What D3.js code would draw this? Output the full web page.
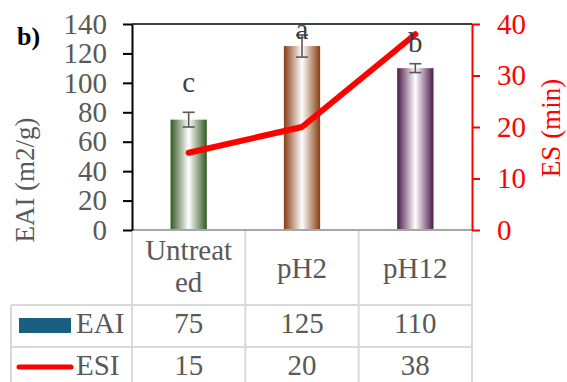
<!DOCTYPE html>
<html><head><meta charset="utf-8">
<script src="https://cdn.jsdelivr.net/npm/d3@7"></script>
<style>
html,body{margin:0;padding:0;background:#fff;}
svg{display:block;font-family:"Liberation Serif","Times New Roman",serif;}
</style></head>
<body>
<svg id="chart" width="567" height="382"></svg>
<script>
const categories = ["Untreated", "pH2", "pH12"];
const categoryLines = [["Untreat", "ed"], ["pH2"], ["pH12"]];
const eaiValues = [75, 125, 110];
const eaiErrors = [5, 7.5, 3];
const esiValues = [15, 20, 38];
const letters = ["c", "a", "b"];
const letterLevel = [94, 130, 121];
const leftTicks = [0, 20, 40, 60, 80, 100, 120, 140];
const rightTicks = [0, 10, 20, 30, 40];
const barDark = ["#345a22", "#853d12", "#4c1a4b"];

const svg = d3.select("#chart");
const L = 132, R = 472, T = 24, B = 230;
const x = d3.scaleBand().domain(categories).range([L, R]).padding(0);
const yL = d3.scaleLinear().domain([0, 140]).range([B, T]);
const yR = d3.scaleLinear().domain([0, 40]).range([B, T]);
const grey = "#595959";
const fs = 29;
const tfs = 27;

// gradients
const defs = svg.append("defs");
barDark.forEach((c, i) => {
  const g = defs.append("linearGradient").attr("id", "g" + i)
    .attr("x1", "0%").attr("x2", "100%").attr("y1", "0%").attr("y2", "0%");
  g.append("stop").attr("offset", "0%").attr("stop-color", c);
  g.append("stop").attr("offset", "50%").attr("stop-color", "#ffffff");
  g.append("stop").attr("offset", "100%").attr("stop-color", c);
});

// table grid
const gridC = "#d9d9d9";
const rowY = [B, 305, 347, 389];
const grid = svg.append("g").attr("stroke", gridC).attr("stroke-width", 2);
[L, ...categories.map(c => x(c) + x.bandwidth())].forEach(xx => {
  grid.append("line").attr("x1", xx).attr("x2", xx).attr("y1", B).attr("y2", 382);
});
grid.append("line").attr("x1", 11).attr("x2", 11).attr("y1", rowY[1]).attr("y2", 382);
[rowY[1], rowY[2], rowY[3]].forEach(yy => {
  grid.append("line").attr("x1", 11).attr("x2", R).attr("y1", yy).attr("y2", yy);
});

// bars
svg.append("g").selectAll("rect").data(eaiValues).join("rect")
  .attr("x", (d, i) => x(categories[i]) + x.bandwidth() * 0.34)
  .attr("width", x.bandwidth() * 0.32)
  .attr("y", d => yL(d)).attr("height", d => B - yL(d))
  .attr("fill", (d, i) => `url(#g${i})`);

// error bars
const eb = svg.append("g").attr("stroke", grey).attr("stroke-width", 1.6);
eaiValues.forEach((v, i) => {
  const cx = x(categories[i]) + x.bandwidth() / 2;
  const e = eaiErrors[i];
  eb.append("line").attr("x1", cx).attr("x2", cx).attr("y1", yL(v - e)).attr("y2", yL(v + e));
  [v - e, v + e].forEach(w => eb.append("line").attr("x1", cx - 6).attr("x2", cx + 6).attr("y1", yL(w)).attr("y2", yL(w)));
});

// x-axis line
svg.append("line").attr("x1", L).attr("x2", R).attr("y1", B).attr("y2", B)
  .attr("stroke", "#a6a6a6").attr("stroke-width", 2);
// top border
svg.append("line").attr("x1", L).attr("x2", R).attr("y1", T).attr("y2", T)
  .attr("stroke", "#000").attr("stroke-width", 1.5);

// left axis
const la = svg.append("g").attr("transform", `translate(${L},0)`)
  .call(d3.axisLeft(yL).tickValues(leftTicks).tickSize(9).tickPadding(16).tickSizeOuter(0));
la.attr("font-family", null);
la.select(".domain").attr("stroke", "#000").attr("stroke-width", 2);
la.selectAll(".tick line").attr("stroke", "#000").attr("stroke-width", 2);
la.selectAll(".tick text").attr("fill", grey).attr("font-size", fs)
  .attr("font-family", "Liberation Serif");

// right axis
const ra = svg.append("g").attr("transform", `translate(${R},0)`)
  .call(d3.axisRight(yR).tickValues(rightTicks).tickSize(8).tickPadding(17).tickSizeOuter(0));
ra.attr("font-family", null);
ra.select(".domain").attr("stroke", "#ff0000").attr("stroke-width", 2);
ra.selectAll(".tick line").attr("stroke", "#ff0000").attr("stroke-width", 2);
ra.selectAll(".tick text").attr("fill", "#ff0000").attr("font-size", fs)
  .attr("font-family", "Liberation Serif");

// ESI line
const line = d3.line().x((d, i) => x(categories[i]) + x.bandwidth() / 2).y(d => yR(d));
svg.append("path").datum(esiValues).attr("d", line).attr("fill", "none")
  .attr("stroke", "#ff0000").attr("stroke-width", 6)
  .attr("stroke-linecap", "round").attr("stroke-linejoin", "round");

// letters
svg.append("g").selectAll("text").data(letters).join("text")
  .attr("x", (d, i) => x(categories[i]) + x.bandwidth() / 2)
  .attr("y", (d, i) => yL(letterLevel[i]))
  .attr("text-anchor", "middle").attr("fill", "#404040").attr("font-size", fs)
  .text(d => d);

// axis titles
svg.append("text").attr("transform", "translate(34,180) rotate(-90)")
  .attr("text-anchor", "middle").attr("fill", grey).attr("font-size", tfs)
  .text("EAI (m2/g)");
svg.append("text").attr("transform", "translate(560,128) rotate(-90)")
  .attr("text-anchor", "middle").attr("fill", "#ff0000").attr("font-size", tfs)
  .text("ES (min)");
svg.append("text").attr("x", 17).attr("y", 45).attr("font-weight", "bold")
  .attr("font-size", 26).attr("fill", "#000").text("b)");

// table: category header
categoryLines.forEach((lines, i) => {
  const cx = x(categories[i]) + x.bandwidth() / 2;
  const t = svg.append("text").attr("text-anchor", "middle").attr("fill", grey).attr("font-size", fs);
  if (lines.length === 1) {
    t.attr("x", cx).attr("y", 278).text(lines[0]);
  } else {
    lines.forEach((s, k) => t.append("tspan").attr("x", cx).attr("y", 260 + k * 32).text(s));
  }
});
// table: values
[eaiValues, esiValues].forEach((vals, r) => {
  svg.append("g").selectAll("text").data(vals).join("text")
    .attr("x", (d, i) => x(categories[i]) + x.bandwidth() / 2)
    .attr("y", r === 0 ? 333 : 375)
    .attr("text-anchor", "middle").attr("fill", grey).attr("font-size", fs)
    .text(d => d);
});
// legend keys
svg.append("rect").attr("x", 19).attr("y", 318).attr("width", 52).attr("height", 15).attr("fill", "#1a5e80");
svg.append("line").attr("x1", 19).attr("x2", 71).attr("y1", 367).attr("y2", 367)
  .attr("stroke", "#ff0000").attr("stroke-width", 5).attr("stroke-linecap", "round");
svg.append("text").attr("x", 76).attr("y", 333).attr("fill", grey).attr("font-size", fs).text("EAI");
svg.append("text").attr("x", 76).attr("y", 375).attr("fill", grey).attr("font-size", fs).text("ESI");
</script>
</body></html>
